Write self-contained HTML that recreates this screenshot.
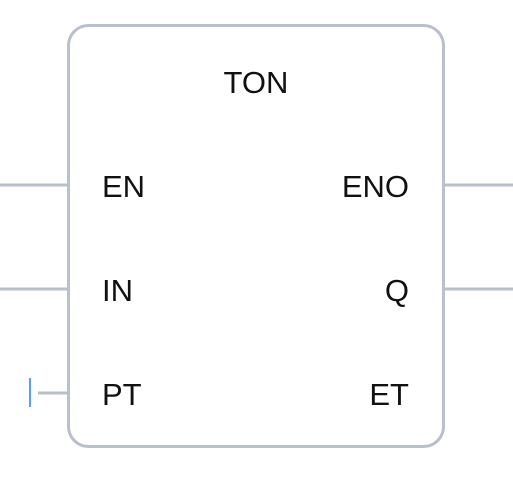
<!DOCTYPE html>
<html><head><style>
html,body{margin:0;padding:0;background:#fff;}
</style></head><body>
<svg width="513" height="500" xmlns="http://www.w3.org/2000/svg" style="display:block">
<g stroke="#b9bfcd" stroke-width="3" fill="none">
<rect x="68.5" y="25.5" width="375" height="421" rx="20" ry="20" fill="#fff"/>
<line x1="0" y1="185" x2="68" y2="185"/>
<line x1="0" y1="289" x2="68" y2="289"/>
<line x1="38" y1="393" x2="68" y2="393"/>
<line x1="444" y1="185" x2="513" y2="185"/>
<line x1="444" y1="289" x2="513" y2="289"/>
</g>
<line x1="30" y1="378" x2="30" y2="407" stroke="#5b9cf5" stroke-width="2"/>
<g font-family="Liberation Sans, sans-serif" font-size="31" fill="#111">
<text x="256" y="93" text-anchor="middle">TON</text>
<text x="102" y="197">EN</text>
<text x="102" y="301">IN</text>
<text x="102" y="405">PT</text>
<text x="409" y="197" text-anchor="end">ENO</text>
<text x="409" y="301" text-anchor="end">Q</text>
<text x="409" y="405" text-anchor="end">ET</text>
</g>
</svg>
</body></html>
